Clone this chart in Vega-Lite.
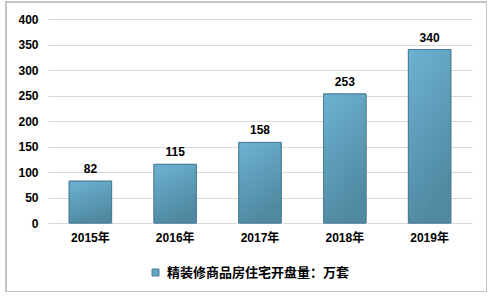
{
  "$schema": "https://vega.github.io/schema/vega-lite/v6.json",
  "width": 481,
  "height": 290,
  "autosize": {"type": "none"},
  "padding": {"left": 6, "top": 2, "right": 0, "bottom": 0},
  "background": "#ffffff",
  "config": {
    "view": {"stroke": "#c3c3c3", "strokeWidth": 2},
    "font": "Liberation Sans, Noto Sans CJK SC"
  },
  "data": {
    "values": [
      {"year": "2015年", "value": 82, "series": "精装修商品房住宅开盘量：万套"},
      {"year": "2016年", "value": 115, "series": "精装修商品房住宅开盘量：万套"},
      {"year": "2017年", "value": 158, "series": "精装修商品房住宅开盘量：万套"},
      {"year": "2018年", "value": 253, "series": "精装修商品房住宅开盘量：万套"},
      {"year": "2019年", "value": 340, "series": "精装修商品房住宅开盘量：万套"}
    ]
  },
  "encoding": {
    "x": {
      "field": "year",
      "type": "nominal",
      "sort": null,
      "scale": {"range": [42, 466], "paddingInner": 0.5, "paddingOuter": 0.25},
      "axis": {
        "title": null,
        "offset": -69,
        "domain": false,
        "ticks": false,
        "grid": false,
        "labelAngle": 0,
        "labelPadding": 9,
        "labelFontSize": 12,
        "labelFontWeight": "bold",
        "labelColor": "#000000",
        "labelFont": "Liberation Sans, Noto Sans CJK SC"
      }
    },
    "y": {
      "field": "value",
      "type": "quantitative",
      "scale": {"domain": [0, 400], "range": [221, 17], "nice": false},
      "axis": {
        "title": null,
        "offset": -42,
        "domain": false,
        "ticks": false,
        "grid": true,
        "gridColor": "#d9d9d9",
        "gridWidth": 1,
        "values": [0, 50, 100, 150, 200, 250, 300, 350, 400],
        "labelPadding": 10,
        "labelFontSize": 12,
        "labelFontWeight": "bold",
        "labelColor": "#000000"
      }
    }
  },
  "layer": [
    {
      "mark": {"type": "bar", "stroke": "#4b7f97", "strokeWidth": 1},
      "encoding": {
        "color": {
          "field": "series",
          "type": "nominal",
          "scale": {"range": ["#62a4c4"]},
          "legend": {
            "title": null,
            "orient": "none",
            "legendX": 143,
            "legendY": 264,
            "padding": 0,
            "symbolType": "square",
            "symbolSize": 49,
            "symbolStrokeColor": "#4b7f97",
            "symbolStrokeWidth": 1,
            "labelOffset": 5,
            "labelFontSize": 13,
            "labelFontWeight": "bold",
            "labelFont": "Noto Sans CJK SC",
            "labelColor": "#000000",
            "labelLimit": 400
          }
        }
      }
    },
    {
      "mark": {
        "type": "bar",
        "stroke": "#4b7f97",
        "strokeWidth": 1,
        "color": {
          "gradient": "linear",
          "x1": 0, "y1": 0, "x2": 0.35, "y2": 1,
          "stops": [
            {"offset": 0, "color": "#6db2d3"},
            {"offset": 1, "color": "#5089a1"}
          ]
        }
      }
    },
    {
      "mark": {
        "type": "text",
        "dy": -8,
        "baseline": "alphabetic",
        "fontSize": 12,
        "fontWeight": "bold",
        "color": "#000000"
      },
      "encoding": {"text": {"field": "value", "type": "quantitative"}}
    }
  ]
}
